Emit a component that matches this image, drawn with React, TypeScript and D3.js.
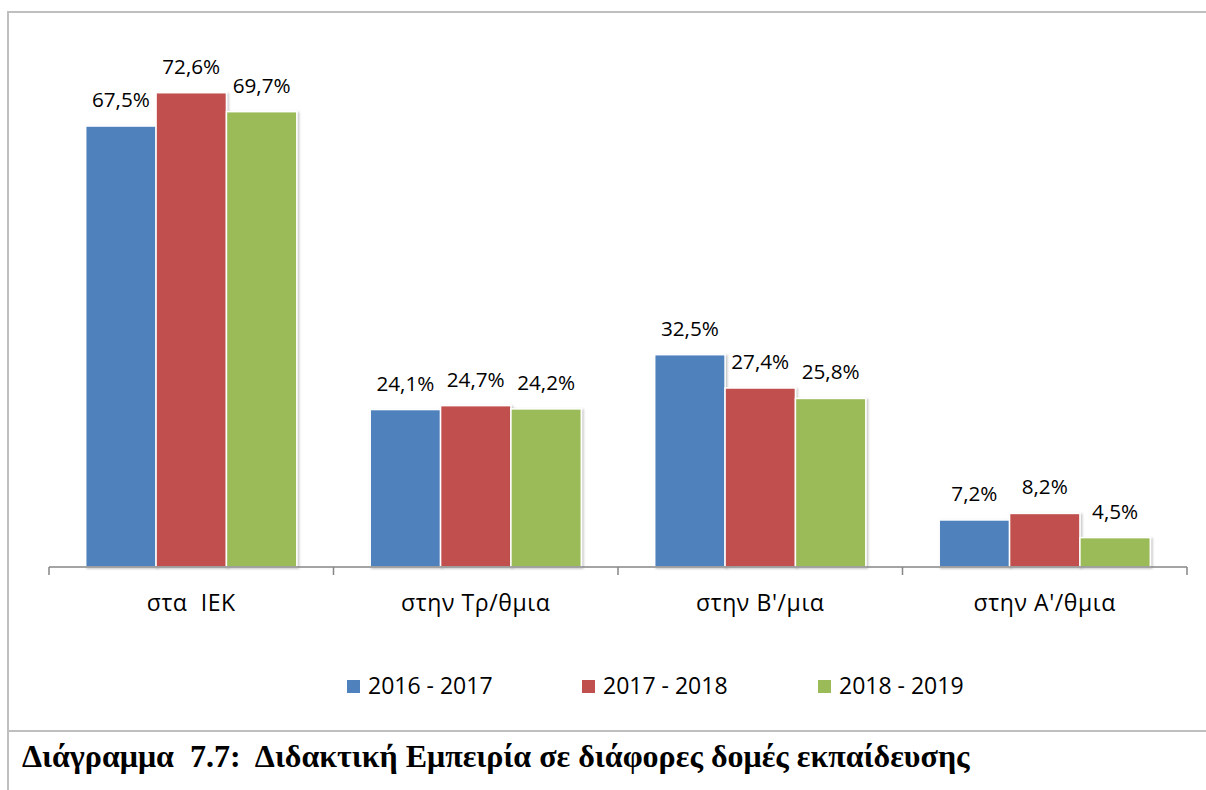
import React from "react";
import * as d3 from "d3";

const categories = ["στα  IEK", "στην Τρ/θμια", "στην Β'/μια", "στην Α'/θμια"];
const seriesNames = ["2016 - 2017", "2017 - 2018", "2018 - 2019"];
const values2016 = [67.5, 24.1, 32.5, 7.2];
const values2017 = [72.6, 24.7, 27.4, 8.2];
const values2018 = [69.7, 24.2, 25.8, 4.5];
const seriesColors = ["#4F81BD", "#C0504D", "#9BBB59"];
const caption = "Διάγραμμα  7.7:  Διδακτική Εμπειρία σε διάφορες δομές εκπαίδευσης";

const seriesValues = [values2016, values2017, values2018];

const W = 1206;
const H = 790;
const FONT = "'Open Sans', 'Noto Sans', sans-serif";

const fmt = (v: number) => v.toFixed(1).replace(".", ",") + "%";

export default function App() {
  const baseY = 567;
  const x = d3.scaleBand<string>().domain(categories).range([49, 1187]).paddingInner(0).paddingOuter(0);
  const bw = x.bandwidth();
  const inner = d3
    .scaleBand<string>()
    .domain(seriesNames)
    .range([bw * 0.129, bw * 0.871])
    .padding(0);
  const y = d3.scaleLinear().domain([0, 80]).range([baseY, baseY - 80 * 6.533]);

  const ticks = [...categories.map((c) => x(c) as number), 1187];

  const legendX = [347, 582, 818];

  return (
    <svg
      width={W}
      height={H}
      style={{ position: "absolute", left: 0, top: 0, background: "#fff" }}
      xmlns="http://www.w3.org/2000/svg"
    >
      <defs>
        <filter id="sh" x="-10%" y="-10%" width="130%" height="130%">
          <feDropShadow dx="1.5" dy="1" stdDeviation="1.2" floodColor="#000" floodOpacity="0.25" />
        </filter>
      </defs>
      <rect x={0} y={0} width={W} height={H} fill="#fff" />
      {/* frame */}
      <line x1={8} y1={12} x2={W} y2={12} stroke="#bfbfbf" strokeWidth={2} />
      <line x1={8} y1={11} x2={8} y2={H} stroke="#bfbfbf" strokeWidth={2} />
      <line x1={8} y1={731} x2={W} y2={731} stroke="#bfbfbf" strokeWidth={2} />

      {/* bars */}
      {categories.map((c, ci) =>
        seriesNames.map((s, si) => {
          const v = seriesValues[si][ci];
          const bx = (x(c) as number) + (inner(s) as number);
          const iw = inner.bandwidth();
          return (
            <g key={c + s}>
              <rect
                x={bx}
                y={y(v)}
                width={iw}
                height={baseY - y(v)}
                fill={seriesColors[si]}
                stroke="#fff"
                strokeWidth={1.5}
                filter="url(#sh)"
              />
              <text
                x={bx + iw / 2}
                y={y(v) - 19}
                textAnchor="middle"
                fontFamily={FONT}
                fontSize={20.7}
                fill="#000"
              >
                {fmt(v)}
              </text>
            </g>
          );
        })
      )}

      {/* axis */}
      <line x1={49} y1={baseY} x2={1187} y2={baseY} stroke="#868686" strokeWidth={1.5} />
      {ticks.map((t, i) => (
        <line key={i} x1={t} y1={baseY} x2={t} y2={baseY + 8} stroke="#868686" strokeWidth={1.5} />
      ))}
      {categories.map((c) => (
        <text
          key={c}
          x={(x(c) as number) + bw / 2}
          y={611}
          textAnchor="middle"
          fontFamily={FONT}
          fontSize={23}
          letterSpacing={0.6}
          fill="#000"
          style={{ whiteSpace: "pre" }}
        >
          {c}
        </text>
      ))}

      {/* legend */}
      {seriesNames.map((s, i) => (
        <g key={s}>
          <rect x={legendX[i]} y={680} width={13} height={13} fill={seriesColors[i]} />
          <text x={legendX[i] + 21} y={694} fontFamily={FONT} fontSize={23} fill="#000">
            {s}
          </text>
        </g>
      ))}

      {/* caption */}
      <text
        x={22}
        y={767}
        fontFamily="'Liberation Serif', 'Times New Roman', serif"
        fontWeight="bold"
        fontSize={32}
        fill="#000"
        style={{ whiteSpace: "pre" }}
      >
        {caption}
      </text>
    </svg>
  );
}
